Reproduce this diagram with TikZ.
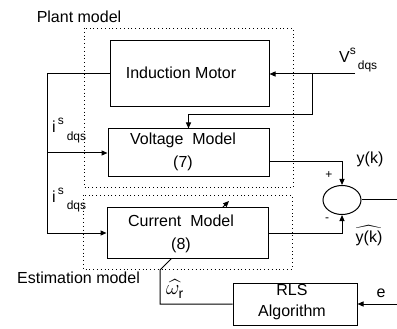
\documentclass[tikz,border=0pt]{standalone}
\usepackage{amsmath}
\usepackage{fontspec}
\setmainfont{Liberation Sans}
\usetikzlibrary{arrows.meta,shapes.geometric}

\begin{document}
\begin{tikzpicture}[
    x=1pt,y=-1pt,
    font=\fontsize{16}{19}\selectfont,
    block/.style={draw,line width=1pt,fill=white,inner sep=0pt},
    boxtext/.style={align=center,inner sep=0pt},
    region/.style={draw,line width=0.8pt,dash pattern=on 0.8pt off 3pt},
    signal/.style={line width=1pt,-{Triangle[length=6pt,width=5pt]}},
    wire/.style={line width=1pt},
    sublabel/.style={anchor=base west,inner sep=0pt},
    small/.style={font=\fontsize{12}{14}\selectfont},
  ]
    \useasboundingbox (0,0) rectangle (397,329);

    \node[block,minimum width=159pt,minimum height=66pt] (motor) at (189.5,74) {};
    \node[block,minimum width=161pt,minimum height=48pt] (voltage) at (188.5,153) {};
    \node[block,minimum width=124pt,minimum height=42pt] (rls) at (295,304) {};
    \node[draw,ellipse,line width=1pt,minimum width=38pt,minimum height=29pt] (sum) at (342,200) {};

    \coordinate (wbend) at (160,270);
    \coordinate (wtip) at (229,201);
    \draw[signal] (rls.west) -| (wbend) -- (wtip);
    \node[block,minimum width=161pt,minimum height=51pt] (current) at (187.5,233) {};

    \node[boxtext] (motortext) at (181,73) {Induction Motor};
    \node[boxtext] (voltagetext) at (183,151.5) {Voltage\ \ Model\\[4pt](7)};
    \node[boxtext] (currenttext) at (181,233.5) {Current\ \ Model\\[4pt](8)};
    \node[boxtext] (rlstext) at (292,302.5) {RLS\\[2pt]Algorithm};

    \coordinate (vin) at (355,74);
    \coordinate (vtap) at (312,74);
    \coordinate (vdrop) at (188.5,115);
    \draw[signal] (vin) -- (motor.east);
    \draw[signal] (vtap) |- (vdrop) -- (voltage.north);

    \coordinate (isplit) at (47.5,153);
    \draw[signal] (motor.west) -| (isplit) -- (voltage.west);
    \draw[signal] (isplit) |- (current.west);

    \draw[signal] ([yshift=-9pt]voltage.east) -| (sum.north);
    \draw[signal] (current.east) -| (sum.south);
    \coordinate (out) at (397,200);
    \draw[wire] (sum.east) -- (out);
    \coordinate (ein) at (397,304);
    \draw[signal] (ein) -- (rls.east);

    \node[sublabel] (vlabel) at (339,63)
      {V\raisebox{8pt}{\fontsize{12}{14}\selectfont s}\kern2pt\raisebox{-7pt}{\fontsize{12}{14}\selectfont dqs}};
    \node[sublabel] (ilabelup) at (52,133)
      {i\kern2pt\raisebox{8pt}{\fontsize{12}{14}\selectfont s}\kern3pt\raisebox{-8pt}{\fontsize{12}{14}\selectfont dqs}};
    \node[sublabel] (ilabeldown) at (52,202)
      {i\kern2pt\raisebox{8pt}{\fontsize{12}{14}\selectfont s}\kern3pt\raisebox{-7pt}{\fontsize{12}{14}\selectfont dqs}};
    \node[anchor=base] (ylabel) at (370,164) {y(k)};
    \node[anchor=base] (yhatlabel) at (369,243) {$\widehat{\text{y(k)}}$};
    \node[small] (plus) at (329,175) {+};
    \node[small] (minus) at (327,220) {-};
    \node (elabel) at (381,293) {e};
    \node[font=\fontsize{20}{24}\selectfont] (wlabel) at (175,289) {$\widehat{\omega_{\text{r}}}$};

    \node (plantlabel) at (79,17) {Plant model};
    \node (estlabel) at (78.5,278) {Estimation model};

    \draw[region] (84,28) rectangle (293,187);
    \draw[region] (83,195.5) rectangle (292,269);
\end{tikzpicture}
\end{document}
